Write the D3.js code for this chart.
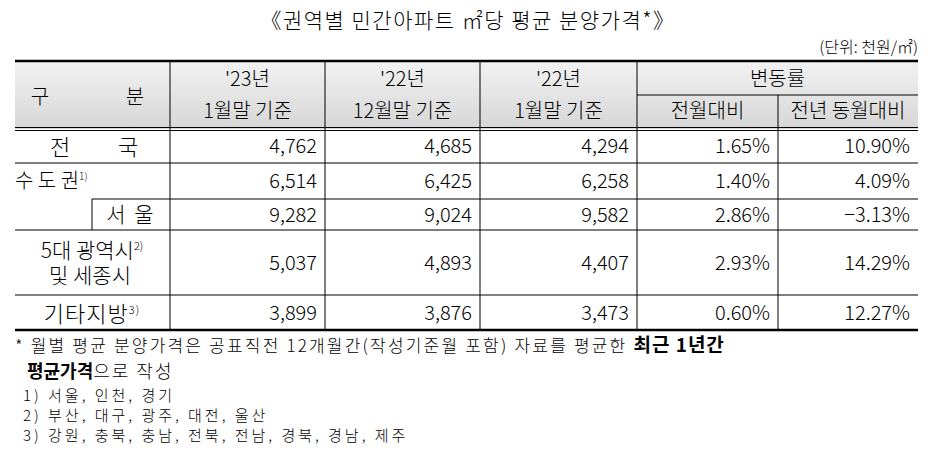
<!DOCTYPE html><html><head><meta charset="utf-8">
<script src="https://cdn.jsdelivr.net/npm/d3@7"></script>
<style>body{margin:0;background:#fff}svg{font-family:"Noto Sans CJK KR","Noto Sans",sans-serif}</style></head><body>
<svg id="c" width="937" height="476"></svg>
<script>
const title = "《권역별 민간아파트 ㎡당 평균 분양가격*》";
const unit = "(단위: 천원/㎡)";
const colHeads = [["'23년","1월말 기준"],["'22년","12월말 기준"],["'22년","1월말 기준"]];
const rateHeads = ["전월대비","전년 동월대비"];
const rows = ["전국","수도권","서울","5대 광역시 및 세종시","기타지방"];
const jan23 = [4762,6514,9282,5037,3899];
const dec22 = [4685,6425,9024,4893,3876];
const jan22 = [4294,6258,9582,4407,3473];
const momRate = [1.65,1.40,2.86,2.93,0.60];
const yoyRate = [10.90,4.09,-3.13,14.29,12.27];
const notes = ["1) 서울, 인천, 경기","2) 부산, 대구, 광주, 대전, 울산","3) 강원, 충북, 충남, 전북, 전남, 경북, 경남, 제주"];

const svg = d3.select("#c");
const colX = [15,170,325,480,637,778,918];
const rowY = [61,129,163,199,230,295,330];
const X = i => colX[i], Y = i => rowY[i];
const defs = svg.append("defs");
const g = defs.append("linearGradient").attr("id","hg").attr("x1",0).attr("y1",0).attr("x2",0).attr("y2",1);
g.append("stop").attr("offset","0%").attr("stop-color","#f2f2f2");
g.append("stop").attr("offset","100%").attr("stop-color","#d6d6d6");
svg.append("rect").attr("x",X(0)).attr("y",Y(0)).attr("width",X(6)-X(0)).attr("height",Y(1)-Y(0)).attr("fill","url(#hg)");

svg.append("text").attr("x",468).attr("y",28).attr("text-anchor","middle").attr("font-size",21).attr("font-weight",300).attr("letter-spacing",1.5).text(title);
svg.append("text").attr("x",918).attr("y",53).attr("text-anchor","end").attr("font-size",16).attr("font-weight",300).text(unit);

const L=(x1,y1,x2,y2,w=1)=>svg.append("line").attr("x1",x1).attr("y1",y1).attr("x2",x2).attr("y2",y2).attr("stroke","#000").attr("stroke-width",w);
L(X(0),Y(0),X(6),Y(0),2.5);
L(X(0),Y(1)-1.5,X(6),Y(1)-1.5,1); L(X(0),Y(1)+1.5,X(6),Y(1)+1.5,1);
L(X(0),Y(2),X(6),Y(2)); L(92,Y(3),X(6),Y(3)); L(X(0),Y(4),X(6),Y(4)); L(X(0),Y(5),X(6),Y(5));
L(X(0),Y(6),X(6),Y(6),2.5);
[1,2,3,4,5].forEach(i=>L(X(i),i==5?95:Y(0),X(i),Y(6)));
L(X(4),95,X(6),95); L(92,Y(3),92,Y(4));

const T=(tx,ty,s,anchor="middle",fs=20)=>svg.append("text").attr("x",tx).attr("y",ty).attr("text-anchor",anchor).attr("font-size",fs).attr("font-weight",300).text(s);
T(40,104,"구"); T(135,104,"분");
colHeads.forEach((h,i)=>{const cx=(X(i+1)+X(i+2))/2;T(cx,86,h[0]);T(cx,118,h[1]);});
T((X(4)+X(6))/2,86,"변동률");
rateHeads.forEach((h,i)=>T((X(4+i)+X(5+i))/2,118,h));

T(60,155,"전",undefined,22); T(128,155,"국",undefined,22);
const t1=T(15,188,"수 도 권","start"); t1.append("tspan").attr("font-size",10).attr("dy",-8).text("1)");
T(131,222,"서 울",undefined,21).attr("letter-spacing",2);
const t2=T(92,258,"5대 광역시",undefined,21); t2.append("tspan").attr("font-size",11).attr("dy",-8).text("2)");
T(90,283,"및 세종시",undefined,21);
const t3=T(92,322,"기타지방",undefined,22).attr("letter-spacing",1); t3.append("tspan").attr("font-size",11).attr("dy",-8).text("3)");

const cy = i => (Y(i+1)+Y(i+2))/2+7;
const fmt = d3.format(",");
[jan23,dec22,jan22].forEach((arr,c)=>arr.forEach((v,r)=>T(X(c+2)-8,cy(r),fmt(v),"end")));
[momRate,yoyRate].forEach((arr,c)=>arr.forEach((v,r)=>T(X(c+5)-8,cy(r),(v<0?"−":"")+d3.format(".2f")(Math.abs(v))+"%","end")));

const n0 = svg.append("text").attr("x",15).attr("y",352).attr("font-size",17).attr("font-weight",300);
n0.append("tspan").attr("letter-spacing",2.2).text("* 월별 평균 분양가격은 공표직전 12개월간(작성기준월 포함) 자료를 평균한 ");
n0.append("tspan").attr("font-weight","bold").attr("font-size",19).attr("letter-spacing",1).text("최근 1년간");
svg.append("text").attr("x",27).attr("y",378).attr("font-size",18).attr("font-weight",300).call(t=>{t.append("tspan").attr("font-weight","bold").text("평균가격");t.append("tspan").attr("letter-spacing",2).text("으로 작성");});
notes.forEach((n,i)=>T(23,401+i*20,n,"start",15).attr("letter-spacing",3));
</script></body></html>
